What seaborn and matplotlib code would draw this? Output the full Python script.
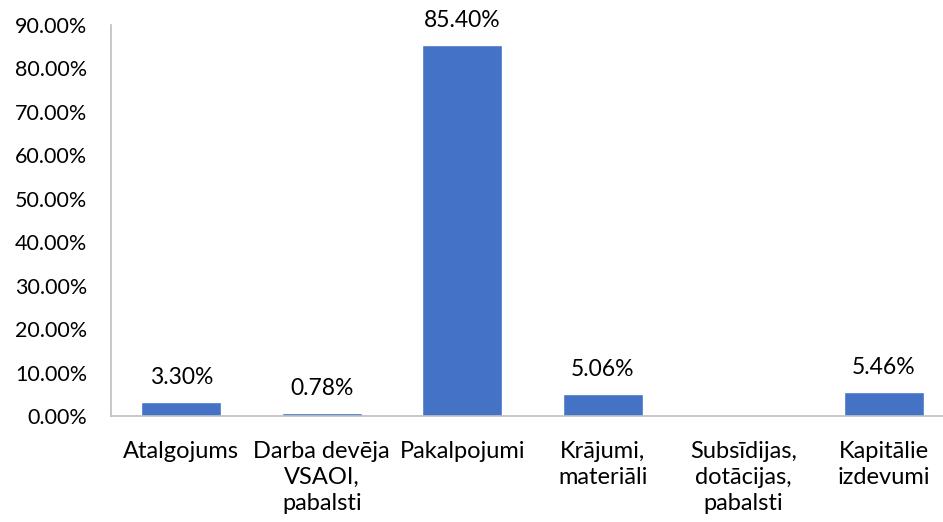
import numpy as np
import seaborn as sns
from matplotlib import pyplot as plt
from matplotlib.ticker import PercentFormatter

categories = [
    "Atalgojums",
    "Darba devēja\nVSAOI,\npabalsti",
    "Pakalpojumi",
    "Krājumi,\nmateriāli",
    "Subsīdijas,\ndotācijas,\npabalsti",
    "Kapitālie\nizdevumi",
]
shares = [3.30, 0.78, 85.40, 5.06, np.nan, 5.46]
y_ticks = [0, 10, 20, 30, 40, 50, 60, 70, 80, 90]

sns.set_style("white")
plt.rcParams["font.family"] = ["Lato", "DejaVu Sans"]

fig = plt.figure(figsize=(9.43, 5.22), dpi=100)
ax = fig.add_axes([0.1177, 0.203, 0.8823, 0.749])

sns.barplot(x=categories, y=shares, ax=ax, color="#4472C4", saturation=1, width=0.57)

# value labels above the bars, skip the empty one
for i, v in enumerate(shares):
    if np.isnan(v):
        continue
    ax.annotate(f"{v:.2f}%", (i, v), xytext=(0, 10), textcoords="offset points",
                ha="center", va="bottom", fontsize=16.5, color="#000000")

ax.set_ylim(0, 90)
ax.set_yticks(y_ticks)
ax.yaxis.set_major_formatter(PercentFormatter(decimals=2))
ax.set_xlim(-0.5, 5.42)

for side in ["top", "right"]:
    ax.spines[side].set_visible(False)
for side in ["left", "bottom"]:
    ax.spines[side].set_color("#BFBFBF")
    ax.spines[side].set_linewidth(1.2)

ax.tick_params(axis="y", length=0, pad=17, labelsize=15.5, labelcolor="#000000")
ax.tick_params(axis="x", length=0, pad=18, labelsize=17, labelcolor="#000000")
for lbl in ax.get_xticklabels():
    lbl.set_linespacing(1.3)

fig.savefig("out.png", dpi=100)
